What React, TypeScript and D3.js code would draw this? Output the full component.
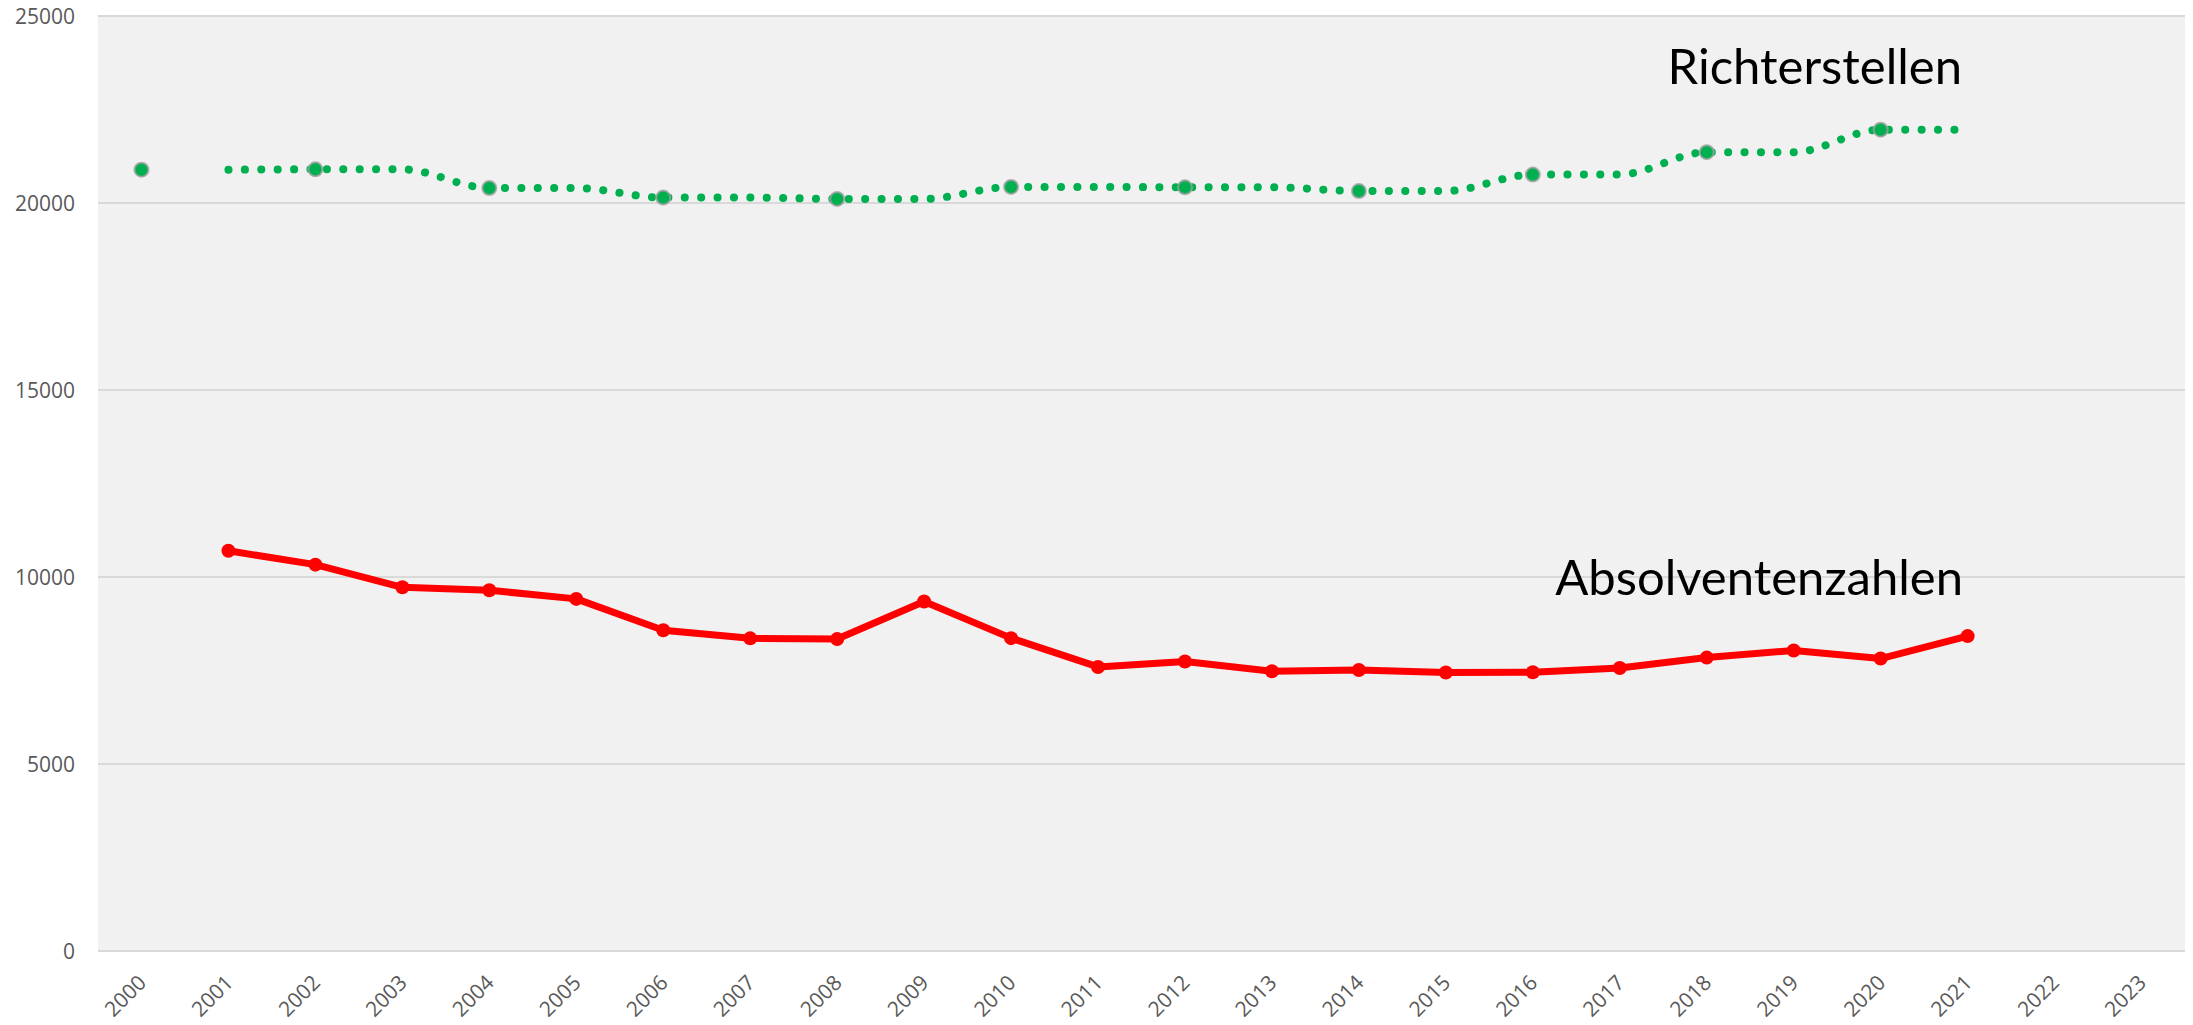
import React from 'react';
import * as d3 from 'd3';

const years = ['2000', '2001', '2002', '2003', '2004', '2005', '2006', '2007', '2008', '2009', '2010', '2011',
  '2012', '2013', '2014', '2015', '2016', '2017', '2018', '2019', '2020', '2021', '2022', '2023'];
const yTicks = [0, 5000, 10000, 15000, 20000, 25000];

// Richterstellen: markers only on even years
const richterYears = ['2000', '2002', '2004', '2006', '2008', '2010', '2012', '2014', '2016', '2018', '2020'];
const richterValues = [20890, 20900, 20400, 20145, 20110, 20430, 20420, 20320, 20760, 21360, 21960];

// dotted smooth line for Richterstellen
const richterLineYears = ['2001', '2002', '2003', '2004', '2005', '2006', '2007', '2008', '2009', '2010', '2011',
  '2012', '2013', '2014', '2015', '2016', '2017', '2018', '2019', '2020', '2021'];
const richterLineValues = [20890, 20900, 20900, 20400, 20400, 20145, 20145, 20110, 20110, 20430, 20430,
  20420, 20420, 20320, 20320, 20760, 20760, 21360, 21360, 21960, 21960];

const absolventYears = ['2001', '2002', '2003', '2004', '2005', '2006', '2007', '2008', '2009', '2010', '2011',
  '2012', '2013', '2014', '2015', '2016', '2017', '2018', '2019', '2020', '2021'];
const absolventValues = [10700, 10330, 9725, 9645, 9415, 8575, 8360, 8340, 9345, 8365, 7595,
  7740, 7480, 7515, 7445, 7455, 7565, 7845, 8035, 7820, 8420];

const width = 2193;
const height = 1025;
const plot = { left: 98, right: 2185, top: 16, bottom: 951 };

const App = () => {
  const xScale = d3.scaleBand()
    .domain(years)
    .range([plot.left, plot.right]);
  const cx = (yr) => xScale(yr) + xScale.bandwidth() / 2;

  const yScale = d3.scaleLinear()
    .domain([0, 25000])
    .range([plot.bottom, plot.top]);

  const richterLine = d3.line()
    .x(d => cx(d[0]))
    .y(d => yScale(d[1]))
    .curve(d3.curveMonotoneX)(richterLineYears.map((y, i) => [y, richterLineValues[i]]));

  const absolventLine = d3.line()
    .x(d => cx(d[0]))
    .y(d => yScale(d[1]))(absolventYears.map((y, i) => [y, absolventValues[i]]));

  const axisFont = { fontFamily: '"Open Sans", sans-serif', fontSize: '21px', fill: '#595959' };
  const labelFont = { fontFamily: 'Lato, sans-serif', fontSize: '49px', fill: '#000' };

  return (
    <svg width={width} height={height} style={{ position: 'absolute', left: 0, top: 0, background: '#fff' }}>
      <rect x={plot.left} y={plot.top} width={plot.right - plot.left} height={plot.bottom - plot.top} fill='#F1F1F1' />
      {yTicks.map(t => (
        <g key={t}>
          <line x1={plot.left} x2={plot.right} y1={yScale(t)} y2={yScale(t)} stroke='#D9D9D9' strokeWidth='2' />
          <text x={75} y={yScale(t)} dy='0.36em' textAnchor='end' style={axisFont}>{t}</text>
        </g>
      ))}
      {years.map(yr => (
        <text key={yr} transform={`translate(${cx(yr) + 6},${plot.bottom + 33}) rotate(-45)`} textAnchor='end' style={axisFont}>{yr}</text>
      ))}

      <path d={richterLine} fill='none' stroke='#00B050' strokeWidth='8' strokeLinecap='round' strokeDasharray='0.1 16.3' />
      {richterYears.map((yr, i) => (
        <circle key={yr} cx={cx(yr)} cy={yScale(richterValues[i])} r='7' fill='#00B050' stroke='#A0A0A0' strokeOpacity='0.8' strokeWidth='2' />
      ))}

      <path d={absolventLine} fill='none' stroke='#FF0000' strokeWidth='7' strokeLinejoin='round' />
      {absolventYears.map((yr, i) => (
        <circle key={yr} cx={cx(yr)} cy={yScale(absolventValues[i])} r='7' fill='#FF0000' />
      ))}

      <text x={1962} y={84} textAnchor='end' style={labelFont}>Richterstellen</text>
      <text x={1963} y={595} textAnchor='end' style={labelFont}>Absolventenzahlen</text>
    </svg>
  );
};

export default App;
